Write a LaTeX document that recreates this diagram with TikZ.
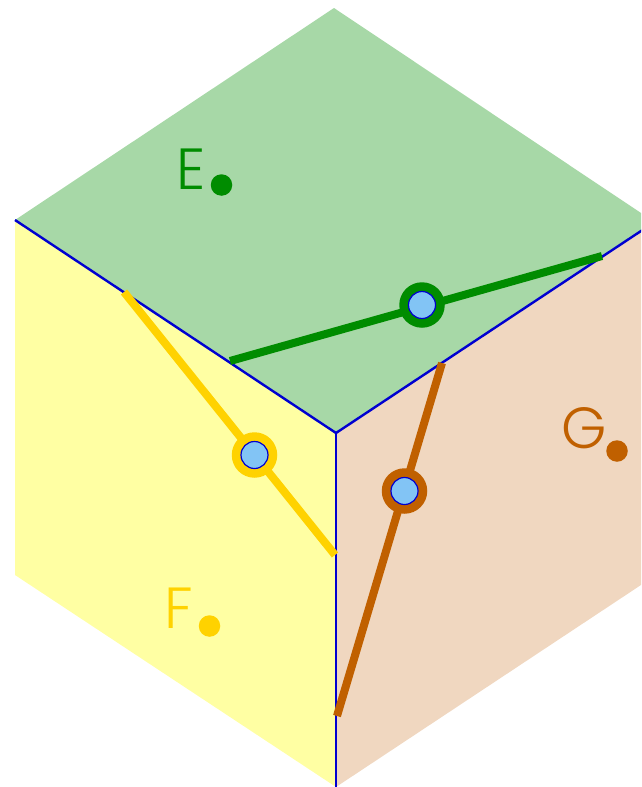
\documentclass[tikz,border=0pt]{standalone}
\usepackage{fontspec}
\newfontfamily\labelfont{Poppins Light}
\usetikzlibrary{positioning}
\definecolor{facegreen}{HTML}{A7D8A7}
\definecolor{faceyellow}{HTML}{FFFFA3}
\definecolor{facebrown}{HTML}{F0D7C0}
\definecolor{linegreen}{HTML}{008C00}
\definecolor{lineyellow}{HTML}{FFD200}
\definecolor{linebrown}{HTML}{C06000}
\definecolor{edgeblue}{HTML}{0000D0}
\definecolor{holeblue}{HTML}{82C4F5}

\begin{document}
\begin{tikzpicture}[
        x=1pt, y=-1pt,
        edge/.style={edgeblue, line width=2.4pt},
        seg/.style={line width=8pt},
        ring/.style={circle, inner sep=0pt, minimum size=45.5pt},
        hole/.style={circle, draw=edgeblue, line width=1.2pt, fill=holeblue, inner sep=0pt, minimum size=27pt},
        dot/.style={circle, inner sep=0pt, minimum size=21.5pt},
        letter/.style={font=\labelfont\fontsize{58pt}{58pt}\selectfont, inner sep=0pt}
    ]
        \useasboundingbox (0,0) rectangle (641,787);
        \clip (0,0) rectangle (641,787);

        % Corners of the cube
        \coordinate (top) at (334,8);
        \coordinate (left) at (15,220);
        \coordinate (mid) at (336,433);
        \coordinate (right) at (644,229);
        \coordinate (topright) at (644,215);
        \coordinate (leftlow) at (15,575);
        \coordinate (bottom) at (336,787);
        \coordinate (rightlow) at (644,583);

        % Faces
        \fill[facegreen] (top) -- (topright) -- (right) -- (mid) -- (left) -- cycle;
        \fill[faceyellow] (left) -- (mid) -- (bottom) -- (leftlow) -- cycle;
        \fill[facebrown] (mid) -- (right) -- (rightlow) -- (bottom) -- cycle;

        % Edges
        \draw[edge] (left) -- (mid);
        \draw[edge] (mid) -- (right);
        \draw[edge] (mid) -- (bottom);

        % Segments
        \coordinate (greenA) at (230,361);
        \coordinate (greenB) at (602,256);
        \coordinate (yellowA) at (124,292);
        \coordinate (yellowB) at (335,555);
        \coordinate (brownA) at (442,363);
        \coordinate (brownB) at (337,716);
        \draw[seg, linegreen] (greenA) -- (greenB);
        \draw[seg, lineyellow] (yellowA) -- (yellowB);
        \draw[seg, linebrown] (brownA) -- (brownB);

        % Rings
        \node[ring, fill=linegreen] (ringE) at (422,305) {};
        \node[ring, fill=lineyellow] (ringF) at (254.5,455) {};
        \node[ring, fill=linebrown] (ringG) at (404.5,491) {};
        \node[hole] (holeE) at (ringE) {};
        \node[hole] (holeF) at (ringF) {};
        \node[hole] (holeG) at (ringG) {};

        % Points and letters
        \node[dot, fill=linegreen] (dotE) at (221.5,185) {};
        \node[dot, fill=lineyellow] (dotF) at (209.5,626) {};
        \node[dot, fill=linebrown] (dotG) at (617,451) {};
        \node[letter, text=linegreen, anchor=base] (nameE) at (191,189) {E};
        \node[letter, text=lineyellow, anchor=base] (nameF) at (178.5,628) {F};
        \node[letter, text=linebrown, anchor=base] (nameG) at (584.5,448) {G};
    \end{tikzpicture}
\end{document}
